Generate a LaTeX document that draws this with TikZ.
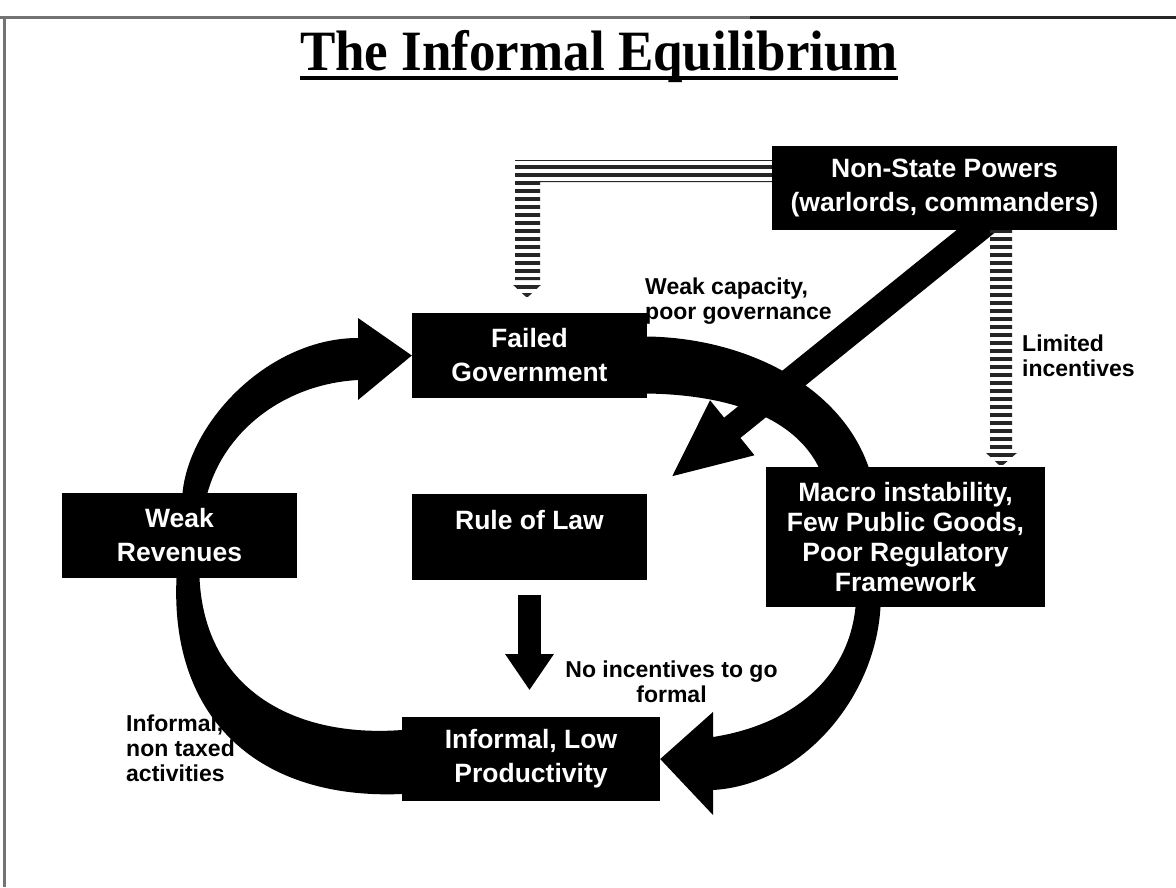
\documentclass[tikz,border=0pt]{standalone}
\usepackage{fontspec}
\setmainfont{Liberation Serif}
\setsansfont{Liberation Sans}
\usetikzlibrary{calc,arrows.meta,patterns.meta}

\tikzset{
  blackbox/.style={fill=black, text=white, align=center, inner sep=0pt,
    font=\sffamily\bfseries\fontsize{26.5}{34}\selectfont},
  lbl/.style={inner sep=0pt, font=\sffamily\bfseries\fontsize{23}{25}\selectfont},
  hatch/.style={pattern={Lines[angle=0,distance=8pt,line width=3.5pt]}, pattern color=black!85},
  bigline/.style={line width=#1, -{Triangle[length=80pt,width=64pt]}},
}

\begin{document}
\begin{tikzpicture}[x=1pt,y=-1pt]
  \useasboundingbox (0,0) rectangle (1176,887);
  % frame of the slide
  \draw[black!55, line width=3pt] (0,17) -- (750,17);
  \draw[black!85, line width=3pt] (750,17) -- (1176,17);
  \draw[black!55, line width=3pt] (4,17) -- (4,887);

  % title
  \node[font=\bfseries\fontsize{57}{60}\selectfont, xscale=.93, anchor=base, inner sep=0pt] (title) at (599,70) {The Informal Equilibrium};
  \draw[line width=3.5pt] ($(title.base west)+(0,8)$) -- ($(title.base east)+(0,8)$);

  % boxes
  \node[blackbox, minimum width=345pt, minimum height=84pt] (ns) at (944.5,188) {Non-State Powers\\(warlords, commanders)};
  \node[blackbox, minimum width=235pt, minimum height=85pt] (fg) at (529.5,355.5) {Failed\\Government};
  \node[blackbox, minimum width=235pt, minimum height=85pt] (wr) at (179.5,535.5) {Weak\\Revenues};
  \node[blackbox, minimum width=235pt, minimum height=86pt] (rl) at (529.5,537) {Rule of Law\\\mbox{}};
  \node[blackbox, minimum width=279pt, minimum height=140pt, font=\sffamily\bfseries\fontsize{26.5}{30}\selectfont] (mi) at (905.5,537) {Macro instability,\\Few Public Goods,\\Poor Regulatory\\Framework};
  \node[blackbox, minimum width=258pt, minimum height=84pt] (ip) at (531,759) {Informal, Low\\Productivity};

  % labels
  \node[lbl, align=left, anchor=west] (capacity) at (645,301) {Weak capacity,\\poor governance};
  \node[lbl, align=left, anchor=west] (limited) at (1022,356) {Limited\\incentives};
  \node[lbl, align=center] (noinc) at (671.5,682) {No incentives to go\\formal};
  \node[lbl, align=left, anchor=west] (informal) at (126,748) {Informal,\\non taxed\\activities};

  % the big cycle
  \fill ($(wr.north)+(3,0)$) .. controls (190,420) and (270,338) .. (358,338)
    -- (358,318) -- (fg.west) -- (358,400) -- (358,380)
    .. controls (285,384) and (225,430) .. ($(wr.north)+(28,0)$) -- cycle;
  \fill ($(fg.east)+(0,-19)$) .. controls (745,338) and (840,385) .. ($(mi.north)+(-37,0)$)
    -- ($(mi.north)+(-87,0)$) .. controls (795,420) and (735,395) .. ($(fg.east)+(0,38)$) -- cycle;
  \fill ($(mi.south)+(-25,0)$) .. controls (875,700) and (800,785) .. (713,790)
    -- (713,815) -- (ip.east) -- (713,712) -- (713,737)
    .. controls (790,725) and (848,680) .. ($(mi.south)+(-50,0)$) -- cycle;
  \fill ($(ip.west)+(0,35)$) .. controls (260,800) and (170,720) .. ($(wr.south)+(-3,0)$)
    -- ($(wr.south)+(20,0)$) .. controls (205,690) and (295,738) .. ($(ip.west)+(0,-29)$) -- cycle;

  % straight arrows
  \coordinate (diagtip) at (670,478);
  \draw[bigline=26pt] ($(ns.south)+(45,-10)$) -- (diagtip);
  \draw[line width=23pt, -{Triangle[length=36pt,width=46pt]}] ($(rl.south)+(0,15)$) -- ($(rl.south)+(0,110)$);

  % hatched arrows
  \fill[hatch] ($(ns.west)+(0,-28)$) -- (515,160) -- (515,280) -- (540,280) -- (540,182) -- ($(ns.west)+(0,-6)$) -- cycle;
  \fill[hatch] (511,283) -- (543,283) -- ($(fg.north)+(-2.5,-15)$) -- cycle;
  \fill[hatch] ($(ns.south)+(45.5,0)$) rectangle ($(mi.north)+(106.5,-17)$);
  \fill[hatch] (985,452) -- (1018,452) -- ($(mi.north)+(95.5,0)$) -- cycle;
\end{tikzpicture}
\end{document}
